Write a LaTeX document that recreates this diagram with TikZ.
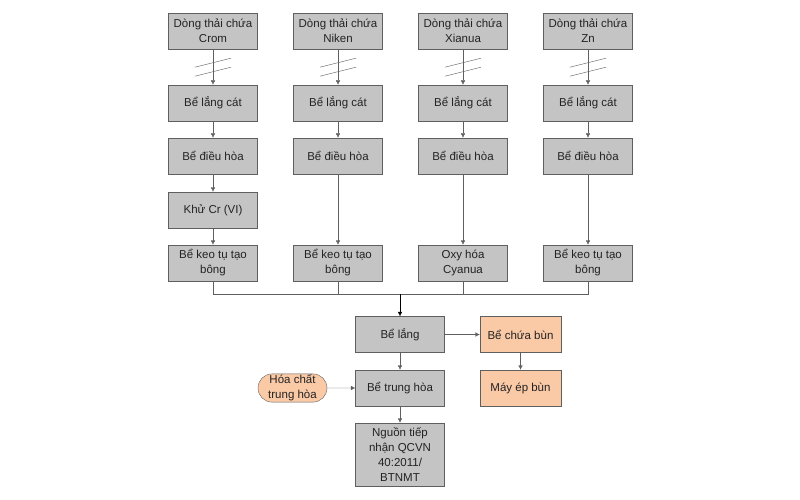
\documentclass[tikz,border=0pt]{standalone}
\usepackage{fontspec}
\setmainfont{Liberation Sans}
\usepackage{tikz}
\usetikzlibrary{arrows.meta,shapes.misc}
\usepackage{xcolor}
\definecolor{boxgray}{RGB}{196,196,196}
\definecolor{edgegray}{RGB}{95,95,95}
\definecolor{peach}{RGB}{250,201,166}
\definecolor{txtgray}{RGB}{35,35,35}

\begin{document}
\begin{tikzpicture}[x=1pt,y=-1pt,
  box/.style={draw=edgegray,fill=boxgray,minimum width=89pt,minimum height=36pt,inner sep=1pt,align=center,text=txtgray,font=\fontsize{11.5}{15}\selectfont},
  slbox/.style={box,fill=peach,minimum width=81pt},
  chem/.style={box,fill=peach,rounded rectangle,minimum width=71pt,minimum height=28pt},
  flow/.style={draw=edgegray,-{Latex[length=4.5pt,width=4.5pt]}},
  pipe/.style={draw=edgegray}]
\useasboundingbox (0,0) rectangle (800,500);
% source streams
\node[box] at (213,31) (s1) {Dòng thải chứa\\Crom};
\node[box] at (338,31) (s2) {Dòng thải chứa\\Niken};
\node[box] at (463,31) (s3) {Dòng thải chứa\\Xianua};
\node[box] at (588,31) (s4) {Dòng thải chứa\\Zn};
\node[box] at (213,103) (c1) {Bể lắng cát};
\node[box] at (338,103) (c2) {Bể lắng cát};
\node[box] at (463,103) (c3) {Bể lắng cát};
\node[box] at (588,103) (c4) {Bể lắng cát};
\node[box] at (213,156) (h1) {Bể điều hòa};
\node[box] at (338,156) (h2) {Bể điều hòa};
\node[box] at (463,156) (h3) {Bể điều hòa};
\node[box] at (588,156) (h4) {Bể điều hòa};
\node[box] at (213,210) (cr) {Khử Cr (VI)};
\node[box] at (213,263) (k1) {Bể keo tụ tạo\\bông};
\node[box] at (338,263) (k2) {Bể keo tụ tạo\\bông};
\node[box] at (463,263) (oxy) {Oxy hóa\\Cyanua};
\node[box] at (588,263) (k4) {Bể keo tụ tạo\\bông};
\coordinate (join) at (400,294);
% common line
\node[box] at (400,334.5) (lang) {Bể lắng};
\node[slbox] at (520.5,334.5) (bun) {Bể chứa bùn};
\node[slbox] at (520.5,388) (ep) {Máy ép bùn};
\node[box] at (400,388) (th) {Bể trung hòa};
\node[chem] at (292.5,388) (hc) {Hóa chất\\trung hòa};
\node[box,minimum height=63pt] at (400,454.5) (out) {Nguồn tiếp\\nhận QCVN\\40:2011/\\BTNMT};
\foreach \i in {1,...,4} {
  \draw[flow] (s\i) -- (c\i);
  \draw[flow] (c\i) -- (h\i);
  \draw[pipe] (s\i.south) ++(-18,18) -- ++(36,-9);
  \draw[pipe] (s\i.south) ++(-18,27) -- ++(36,-9);
}
\draw[flow] (h1) -- (cr);
\draw[flow] (cr) -- (k1);
\draw[flow] (h2) -- (k2);
\draw[flow] (h3) -- (oxy);
\draw[flow] (h4) -- (k4);
\draw[pipe] (k1.south) -- (k1.south |- join) -- (k4.south |- join) -- (k4.south);
\draw[pipe] (k2.south) -- (k2.south |- join);
\draw[pipe] (oxy.south) -- (oxy.south |- join);
\draw[flow,draw=black] (join) -- (lang);
\draw[flow] (lang) -- (bun);
\draw[flow] (bun) -- (ep);
\draw[flow] (lang) -- (th);
\draw[flow] (hc) -- (th);
\draw[flow] (th) -- (out);
\end{tikzpicture}
\end{document}
